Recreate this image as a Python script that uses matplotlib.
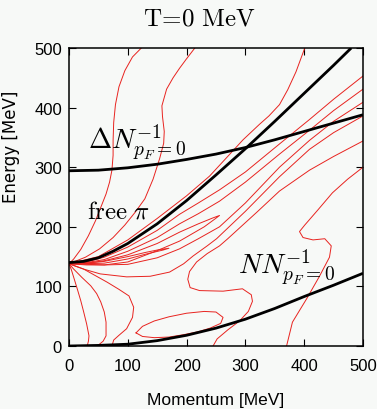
import numpy as np
import matplotlib
matplotlib.use("Agg")
import matplotlib.pyplot as plt

plt.rcParams['mathtext.fontset'] = 'cm'

# ---------------- data (MeV) ----------------
ticks = [0, 100, 200, 300, 400, 500]

# thick black curves
pion_p = [0, 25, 50, 75, 100, 150, 200, 250, 300, 350, 400, 450, 480]
pion_e = [140, 142, 148, 159, 172, 205, 244, 287, 331, 377, 424, 471, 500]
delta_p = [0, 50, 100, 150, 200, 250, 300, 350, 400, 450, 500]
delta_e = [294, 295, 299, 305, 313, 322, 333, 346, 360, 374, 388]
nh_p = [0, 50, 100, 150, 200, 250, 300, 350, 400, 450, 500]
nh_e = [0, 1, 3, 9, 18, 30, 45, 63, 83, 102, 122]

# thin red contour lines (traced)
r1_p = [123, 108, 95, 85, 79, 76, 75, 75, 73, 69, 63, 55, 45, 33, 20, 8, 0]
r1_e = [500, 485, 462, 435, 405, 375, 345, 320, 295, 275, 255, 235, 210, 185, 162, 146, 138]
r2_p = [214, 200, 188, 177, 166, 158, 159, 162, 161, 154, 143, 129, 113, 95, 75, 52, 28, 0]
r2_e = [500, 482, 466, 450, 431, 403, 385, 360, 340, 314, 280, 247, 225, 203, 182, 163, 149, 138]
l1_p = [0, 50, 100, 150, 200, 239, 268, 296, 324, 340, 358, 372, 386, 401]
l1_e = [138, 150, 178, 214, 252, 285, 316, 346, 372, 386, 405, 430, 460, 500]
d1_p = [0, 30, 60, 100, 150, 188, 220, 256, 300, 358, 409, 450, 500]
d1_e = [138, 141, 149, 166, 194, 221, 240, 262, 292, 339, 380, 414, 453]
d2_p = [0, 30, 60, 100, 150, 188, 220, 256, 300, 358, 409, 450, 500]
d2_e = [138, 140, 145, 159, 182, 205, 222, 243, 275, 322, 362, 395, 431]
t2_p = [0, 30, 60, 100, 150, 188, 220, 245, 256, 248, 230, 188, 150, 100, 60, 30, 0]
t2_e = [138, 139, 143, 153, 172, 191, 205, 215, 219, 213, 200, 176, 160, 141, 136, 136, 138]
t1_p = [0, 30, 60, 100, 130, 155, 170, 160, 130, 100, 60, 30, 0]
t1_e = [138, 139, 142, 150, 157, 162, 164, 161, 154, 146, 139, 138, 138]
d3_p = [0, 30, 60, 100, 150, 188, 220, 256, 300, 358, 409, 450, 500]
d3_e = [138, 137, 136, 137, 148, 163, 180, 200, 240, 300, 345, 377, 409]
d4_p = [0, 25, 53, 98, 138, 171, 195, 211, 235, 251, 300, 358, 409, 450, 500]
d4_e = [138, 129, 121, 116, 117, 124, 138, 151, 168, 180, 226, 284, 330, 358, 386]
c5_p = [500, 450, 409, 358, 320, 290, 270, 256, 235, 217, 205, 202, 206, 222, 262, 295, 310, 312, 305, 290, 270, 252, 245]
c5_e = [344, 318, 295, 260, 225, 198, 180, 168, 155, 141, 125, 112, 98, 93, 92, 96, 86, 75, 58, 42, 27, 12, 0]
s_p = [500, 474, 448, 423, 401, 392, 398, 415, 435, 446, 443, 426, 404, 380, 370]
s_e = [300, 280, 257, 228, 203, 192, 182, 178, 180, 168, 149, 117, 79, 40, 0]
ell_p = [114, 125, 145, 170, 200, 230, 250, 262, 258, 240, 220, 195, 170, 145, 125, 114]
ell_e = [22, 33, 42, 49, 55, 58, 57, 48, 38, 30, 24, 19, 15, 14, 16, 22]
c1_p = [0, 4, 9, 14, 20, 25, 30, 34, 33, 31]
c1_e = [138, 128, 112, 96, 76, 57, 37, 17, 8, 0]
c2_p = [0, 8, 22, 37, 47, 54, 60, 63, 63, 58, 48]
c2_e = [138, 129, 115, 101, 88, 74, 57, 40, 17, 8, 0]
c3_p = [0, 25, 45, 65, 85, 102, 110, 108, 98, 85, 76, 73]
c3_e = [138, 129, 118, 107, 95, 84, 65, 48, 29, 18, 10, 0]

red_curves = [(r1_p, r1_e), (r2_p, r2_e), (l1_p, l1_e), (d1_p, d1_e),
              (t2_p, t2_e), (t1_p, t1_e), (d2_p, d2_e), (d3_p, d3_e),
              (d4_p, d4_e), (c5_p, c5_e), (s_p, s_e), (ell_p, ell_e),
              (c1_p, c1_e), (c2_p, c2_e), (c3_p, c3_e)]

# ---------------- figure ----------------
bg = '#f7f9f7'
fig = plt.figure(figsize=(3.77, 4.10), dpi=100, facecolor=bg)
ax = fig.add_axes([69/377, 1-347/410, 294/377, 298/410], facecolor=bg)

for p, e in red_curves:
    ax.plot(p, e, color='#e8231f', lw=0.7, solid_joinstyle='round')

for p, e in [(pion_p, pion_e), (delta_p, delta_e), (nh_p, nh_e)]:
    ax.plot(p, e, color='black', lw=2.0, solid_capstyle='butt')

ax.set_xlim(0, 500)
ax.set_ylim(0, 500)
ax.set_xticks(ticks)
ax.set_yticks(ticks)
tick_font = dict(family=['Liberation Sans', 'DejaVu Sans'], fontsize=12)
ax.set_xticklabels([str(t) for t in ticks], **tick_font)
ax.set_yticklabels([str(t) for t in ticks], **tick_font)
ax.tick_params(axis='both', direction='in', length=5, width=0.8, top=True, right=True)
ax.tick_params(axis='x', pad=9)
ax.tick_params(axis='y', pad=5)
for s in ax.spines.values():
    s.set_linewidth(1.1)

ax.set_xlabel('Momentum [MeV]', family=['Liberation Sans', 'DejaVu Sans'], fontsize=12.5)
ax.xaxis.set_label_coords(0.5, -0.154)
ax.set_ylabel('Energy [MeV]', family=['DejaVu Sans'], fontsize=12)
ax.yaxis.set_label_coords(-0.167, 0.673)

ax.text(32, 330, r'$\Delta N^{-1}_{p_F=0}$', fontsize=20, ha='left', va='baseline')
ax.text(31, 216, r'$\mathrm{free}\ \pi$', fontsize=18, ha='left', va='baseline')
ax.text(287, 121, r'$NN^{-1}_{p_F=0}$', fontsize=20, ha='left', va='baseline')

fig.text(0.53, 0.955, r'$\mathrm{T\!=\!0\ MeV}$', fontsize=18, ha='center', va='center')

fig.savefig('out.png', dpi=100, facecolor=bg)
